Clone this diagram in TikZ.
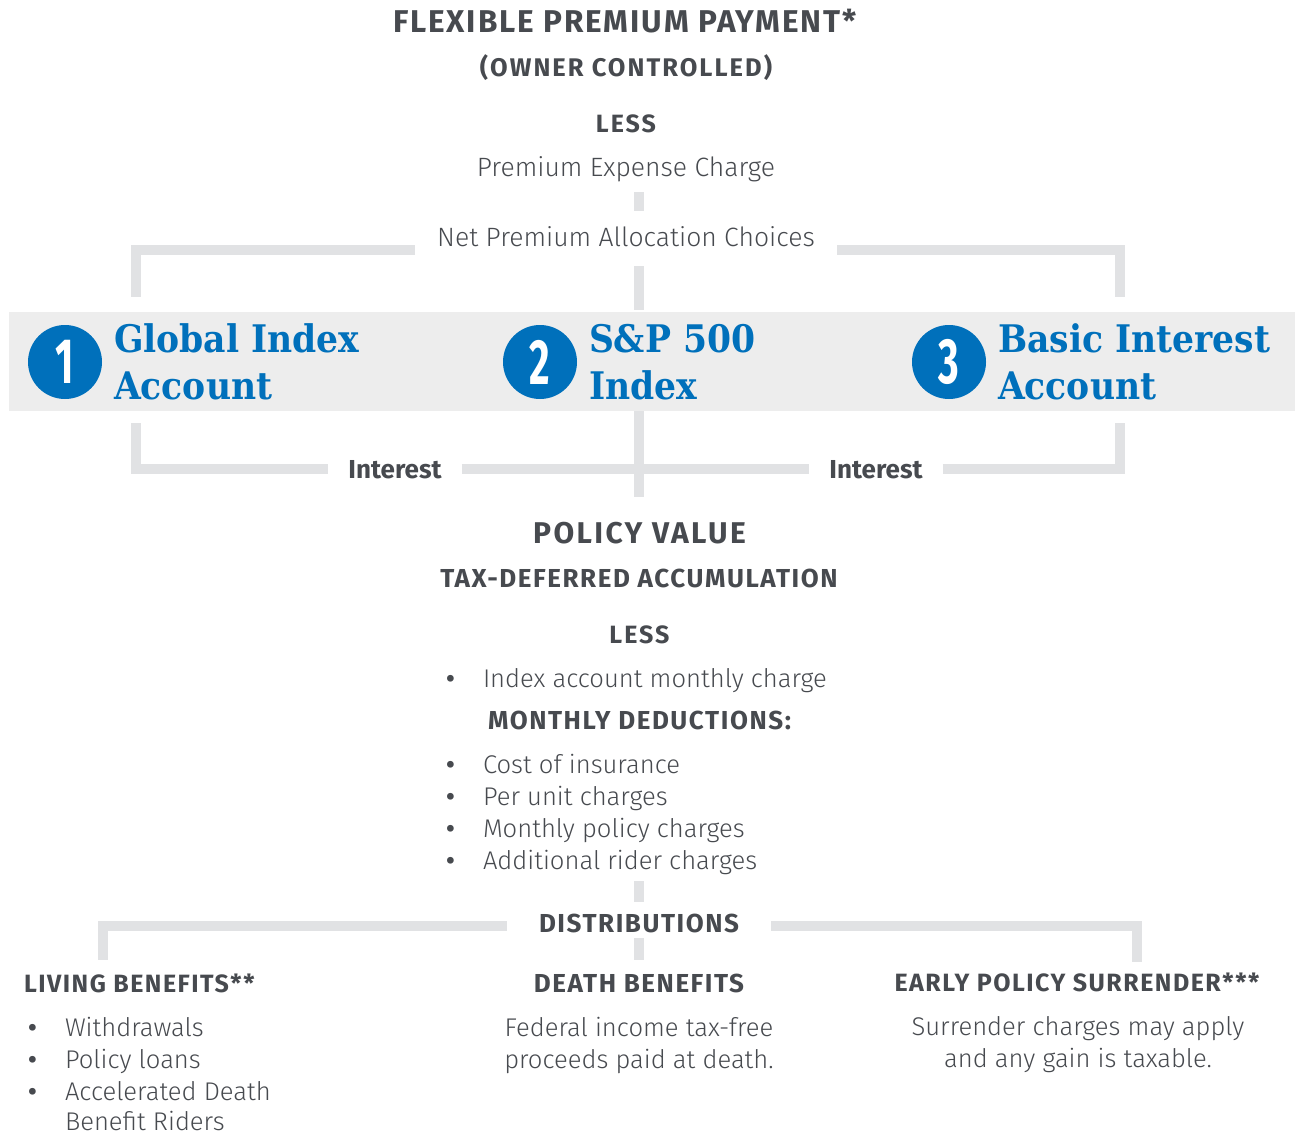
\documentclass[tikz,border=0pt]{standalone}
\usepackage{fontspec}
\setmainfont{Fira Sans Light}[BoldFont={Fira Sans SemiBold}]
\newfontfamily\headfont{Fira Sans Bold}[LetterSpace=6]
\newfontfamily\tagfont{Fira Sans}
\newfontfamily\acctfont{DejaVu Serif}[FakeStretch=0.91]
\newfontfamily\numfont{Fira Sans}[FakeStretch=0.62]
\usetikzlibrary{positioning}
\definecolor{textgray}{RGB}{71,74,79}
\definecolor{linegray}{RGB}{225,226,228}
\definecolor{bandgray}{RGB}{237,237,237}
\definecolor{acctblue}{RGB}{0,112,187}

\begin{document}
\begin{tikzpicture}[x=1pt, y=-1pt,
every node/.style={inner sep=0pt, outer sep=0pt, text=textgray},
head/.style={anchor=base, font=\headfont\fontsize{26}{30}\selectfont},
body/.style={anchor=base, font=\fontsize{25.6}{32}\selectfont},
item/.style={anchor=base west, font=\fontsize{25.6}{32}\selectfont},
tag/.style={anchor=base, inner xsep=20pt, font=\tagfont\fontsize{26}{30}\selectfont\bfseries},
link/.style={line width=10pt, draw=linegray},
band/.style={fill=bandgray, minimum width=1286pt, minimum height=99pt},
number/.style={circle, fill=acctblue, minimum size=74pt, text=white, font=\numfont\fontsize{64}{64}\selectfont\bfseries},
account/.style={right=12pt of #1, align=left, text=acctblue, font=\acctfont\fontsize{38}{47}\selectfont\bfseries},
]
\useasboundingbox (0,0) rectangle (1295,1134);

\node[head, font=\headfont\fontsize{31.5}{34}\selectfont] (title) at (625,33) {FLEXIBLE PREMIUM PAYMENT*};
\node[head, font=\headfont\fontsize{25.5}{28}\selectfont\addfontfeature{LetterSpace=8}] (owner) at (626,77) {(OWNER CONTROLLED)};
\node[head, font=\headfont\fontsize{25}{30}\selectfont\addfontfeature{LetterSpace=8}] (less1) at (626,133) {LESS};
\node[body, font=\fontsize{26.5}{32}\selectfont] (pec) at (626,177) {Premium Expense Charge};
\node[body, font=\fontsize{26.5}{32}\selectfont, inner xsep=22pt] (net) at (626,246) {Net Premium Allocation Choices};

\node[band] (band) at (652,361.5) {};
\node[number] (c1) at (65,362) {1};
\node[number] (c2) at (540,362) {2};
\node[number] (c3) at (949,362) {3};
\node[account=c1] (acc1) {Global Index\\Account};
\node[account=c2] (acc2) {S\&P 500\\Index};
\node[account=c3] (acc3) {Basic Interest\\Account};

\node[tag] (int1) at (395,478) {Interest};
\node[tag] (int2) at (876,478) {Interest};

\node[head, font=\headfont\fontsize{30}{34}\selectfont\addfontfeature{LetterSpace=8}] (pv) at (639.5,543) {POLICY VALUE};
\node[head] (tda) at (639,587) {TAX-DEFERRED ACCUMULATION};
\node[head, font=\headfont\fontsize{25}{30}\selectfont\addfontfeature{LetterSpace=8}] (less2) at (639.5,643) {LESS};
\node[item] (idx) at (446,687) {\makebox[37pt][l]{\bfseries •}Index account monthly charge};
\node[head] (md) at (639.5,729) {MONTHLY DEDUCTIONS:};
\node[item] (cost) at (446,773) {\makebox[37pt][l]{\bfseries •}Cost of insurance};
\node[item] (unit) at (446,805) {\makebox[37pt][l]{\bfseries •}Per unit charges};
\node[item] (mpc) at (446,837) {\makebox[37pt][l]{\bfseries •}Monthly policy charges};
\node[item] (rider) at (446,869) {\makebox[37pt][l]{\bfseries •}Additional rider charges};

\node[head, inner xsep=32pt] (dist) at (639,932) {DISTRIBUTIONS};

\node[head, anchor=base west, font=\headfont\fontsize{25}{30}\selectfont] (living) at (24,992) {LIVING BENEFITS**};
\node[item] (wd) at (28,1036) {\makebox[37pt][l]{\bfseries •}Withdrawals};
\node[item] (loans) at (28,1068) {\makebox[37pt][l]{\bfseries •}Policy loans};
\node[item] (adb) at (28,1100) {\makebox[37pt][l]{\bfseries •}Accelerated Death};
\node[item] (riders) at (65,1130) {Benefit Riders};

\node[head] (death) at (639,992) {DEATH BENEFITS};
\node[body] (fed) at (639,1036) {Federal income tax-free};
\node[body] (paid) at (639,1068) {proceeds paid at death.};

\node[head, font=\headfont\fontsize{25}{30}\selectfont] (early) at (1077,991) {EARLY POLICY SURRENDER***};
\node[body] (sc) at (1078,1035) {Surrender charges may apply};
\node[body] (gain) at (1078,1067) {and any gain is taxable.};

% bracket ends
\coordinate (axis) at (639,0);
\coordinate (in1) at (136,297);
\coordinate (in3) at (1120,297);
\coordinate (out1) at (136,423);
\coordinate (out3) at (1120,423);
\coordinate (ben1) at (103,960);
\coordinate (ben3) at (1137,962);

\draw[link, shorten <=15pt, shorten >=15pt] (pec.base -| axis) -- (net.north -| axis);
\draw[link] ([yshift=-4pt]net.base west) -| (in1);
\draw[link] ([yshift=-4pt]net.base east) -| (in3);
\draw[link, shorten <=20pt, shorten >=2pt] (net.base -| axis) -- (band.north -| axis);

\draw[link] (out1) |- (int1.west);
\draw[link] (int1.east) -- (int2.west);
\draw[link] (int2.east) -| (out3);
\draw[link, shorten >=25pt] (band.south -| axis) -- (pv.north -| axis);

\draw[link, shorten <=12pt, shorten >=12pt] (rider.base -| axis) -- (dist.north -| axis);
\draw[link] ([yshift=-3pt]dist.west) -| (ben1);
\draw[link] ([yshift=-3pt]dist.east) -| (ben3);
\draw[link, shorten <=6pt, shorten >=14pt] (dist.base -| axis) -- (death.north -| axis);

\end{tikzpicture}
\end{document}
